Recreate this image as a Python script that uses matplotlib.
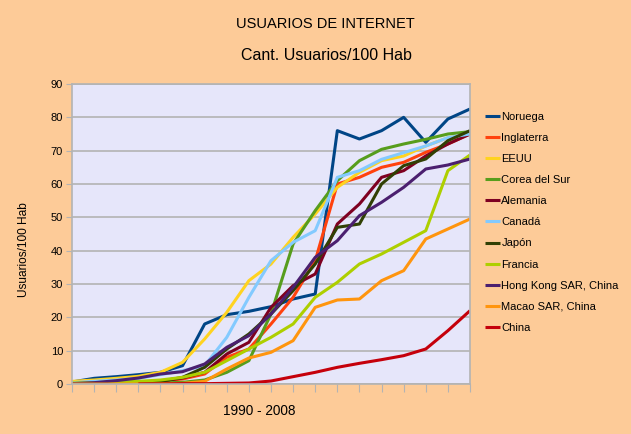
import numpy as np
import matplotlib
matplotlib.use("Agg")
import matplotlib.pyplot as plt

plt.rcParams['font.family'] = ['Liberation Sans', 'DejaVu Sans']

# años 1990 - 2008 (19 puntos)
years = list(range(1990, 2009))

series_names = ['Noruega', 'Inglaterra', 'EEUU', 'Corea del Sur', 'Alemania', 'Canadá',
                'Japón', 'Francia', 'Hong Kong SAR, China', 'Macao SAR, China', 'China']

series_colors = ['#004586', '#FF420E', '#FFD320', '#579D1C', '#7E0021', '#83CAFF',
                 '#314004', '#AECF00', '#4B1F6F', '#FF950E', '#C5000B']

nan = np.nan
noruega = [0.6, 1.7, 2.2, 2.8, 3.5, 5.5, 18, 20.8, 21.8, 23.2, 25.5, 27, 76, 73.5, 76, 80, 72.5, 79.5, 82.5]
inglaterra = [0.1, 0.2, 0.3, 0.5, 0.9, 1.5, 3, 8, 10.5, 18, 26, 37, 60, 62, 65, 66.5, 69.5, 72, 75]
eeuu = [0.8, 1.2, 1.7, 2.3, 3.5, 6.5, 13.5, 21.5, 31, 36, 44, 51, 59, 63.5, 67, 68.4, 71.4, 73.9, 75]
corea = [0, 0, 0, 0.1, 0.3, 0.5, 1.2, 3.5, 7, 21, 42, 52, 61, 67, 70.4, 72, 73.4, 75, 75.7]
alemania = [0.1, 0.2, 0.3, 0.5, 0.9, 1.8, 3.5, 9, 12.5, 23, 29.5, 33, 48, 54, 62, 64, 68.4, 72, 75]
canada = [0.4, 0.8, 1.2, 1.7, 2.8, 4, 5.5, 14, 26, 37, 42.5, 46, 62, 64, 67.4, 69.4, 71.4, 73.9, 75]
japon = [0.02, 0.04, 0.1, 0.4, 0.8, 2, 5, 10.5, 15, 21, 28, 36, 47, 48, 60, 65.5, 67.5, 73, 76]
francia = [0.3, 0.4, 0.6, 0.8, 1.2, 2, 3.5, 7, 10.5, 14, 18, 26, 30.5, 36, 39, 42.5, 46, 64, 68.7]
hong_kong = [0.1, 0.4, 1.0, 1.8, 3, 3.7, 6, 11, 14.5, 21, 29, 38, 43, 50.5, 54.5, 59, 64.5, 65.7, 67.5]
macao = [0, 0, 0, 0, 0.05, 0.2, 0.8, 4.5, 7.8, 9.5, 13, 23, 25.2, 25.5, 31, 34, 43.5, 46.5, 49.5]
china = [nan, nan, nan, 0, 0, 0.1, 0.1, 0.2, 0.3, 0.9, 2.2, 3.5, 5, 6.2, 7.3, 8.5, 10.5, 16, 22]

all_series = [noruega, inglaterra, eeuu, corea, alemania, canada,
              japon, francia, hong_kong, macao, china]

y_ticks = [0, 10, 20, 30, 40, 50, 60, 70, 80, 90]

fig = plt.figure(figsize=(6.31, 4.34), dpi=100)
fig.patch.set_facecolor('#FDCB98')

ax = fig.add_axes([72 / 631, 1 - 384 / 434, 398 / 631, 300 / 434])
ax.set_facecolor('#E6E6FA')

for name, color, vals in zip(series_names, series_colors, all_series):
    ax.plot(years, vals, color=color, linewidth=2.2, label=name, solid_capstyle='butt')

ax.set_xlim(years[0], years[-1])
ax.set_ylim(0, 90)
ax.set_yticks(y_ticks)
ax.set_xticks(years)
ax.set_xticklabels([])
ax.tick_params(axis='y', labelsize=8, length=4.5, color='#B3B3B3', pad=2)
ax.tick_params(axis='x', length=6, color='#B3B3B3')
ax.yaxis.grid(True, color='#B3B3B3', linewidth=1.2)
ax.set_axisbelow(True)
for sp in ax.spines.values():
    sp.set_color('#B3B3B3')
    sp.set_linewidth(1.2)

fig.text(325 / 631, 1 - 24 / 434, 'USUARIOS DE INTERNET', ha='center', va='center', fontsize=10.5)
fig.text(326 / 631, 1 - 56 / 434, 'Cant. Usuarios/100 Hab', ha='center', va='center', fontsize=11.5)
fig.text(24 / 631, 1 - 250 / 434, 'Usuarios/100 Hab', ha='center', va='center',
         rotation=90, fontsize=8.6)
fig.text(259 / 631, 1 - 411 / 434, '1990 - 2008', ha='center', va='center', fontsize=9.8)

leg = ax.legend(loc='upper left', bbox_to_anchor=(477 / 631, 1 - 104 / 434),
                bbox_transform=fig.transFigure, frameon=False, fontsize=8,
                handlelength=1.35, handletextpad=0.15, labelspacing=1.0,
                borderpad=0.2)

fig.savefig('out.png', dpi=100, facecolor=fig.get_facecolor())
